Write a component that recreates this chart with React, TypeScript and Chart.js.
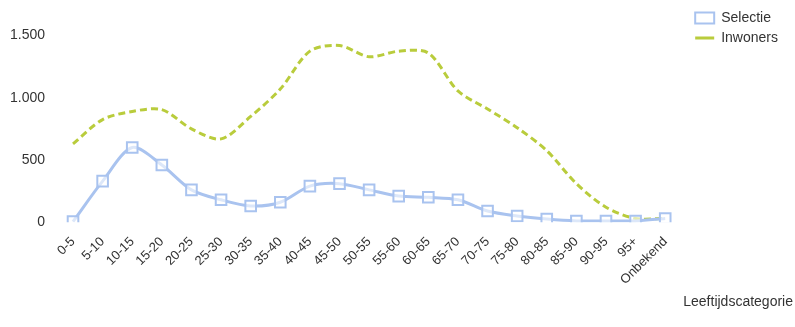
import React, { useEffect, useRef } from "react";
import { Chart, registerables } from "chart.js";

Chart.register(...registerables);

const categories = ["0-5", "5-10", "10-15", "15-20", "20-25", "25-30", "30-35", "35-40", "40-45", "45-50", "50-55", "55-60", "60-65", "65-70", "70-75", "75-80", "80-85", "85-90", "90-95", "95+", "Onbekend"];
const selectie = [5, 330, 600, 460, 260, 180, 130, 160, 290, 310, 260, 210, 200, 180, 90, 50, 25, 10, 10, 10, 30];
const inwoners = [630, 825, 890, 905, 750, 670, 850, 1070, 1375, 1420, 1330, 1375, 1360, 1055, 910, 760, 575, 310, 120, 30, 30];
const yTicks = [0, 500, 1000, 1500];
const xTitle = "Leeftijdscategorie";

// widens the legend box a little so it sits further left, as in the reference
const legendWiden = {
  id: "legendWiden",
  beforeLayout(chart: any) {
    const lg = chart.legend;
    if (lg && !lg.__widened) {
      const orig = lg.fit.bind(lg);
      lg.fit = () => {
        orig();
        lg.width += 5;
      };
      lg.__widened = true;
    }
  },
};

export default function App() {
  const ref = useRef<HTMLCanvasElement>(null);
  useEffect(() => {
    if (!ref.current) return;
    Chart.defaults.font.family = "'Liberation Sans', Arial, sans-serif";
    Chart.defaults.color = "#333";
    const chart = new Chart(ref.current, {
      type: "line",
      plugins: [legendWiden],
      data: {
        datasets: [
          {
            label: "Selectie",
            data: selectie.map((v, i) => ({ x: i, y: v })),
            borderColor: "#a9c3ef",
            backgroundColor: "#ffffff",
            borderWidth: 3,
            pointStyle: "rect",
            pointRadius: 7.5,
            pointBorderWidth: 2,
            pointBorderColor: "#a9c3ef",
            pointBackgroundColor: "rgba(255,255,255,0.6)",
            tension: 0.3,
            order: 1,
          },
          {
            label: "Inwoners",
            data: inwoners.map((v, i) => ({ x: i, y: v })),
            borderColor: "#b9cc3c",
            backgroundColor: "#b9cc3c",
            borderWidth: 3,
            borderDash: [7, 4],
            pointRadius: 0,
            pointStyle: "line",
            tension: 0.3,
            order: 2,
          },
        ],
      },
      options: {
        animation: false,
        responsive: true,
        maintainAspectRatio: false,
        layout: { padding: { top: 5, left: 10, right: 2, bottom: 0 } },
        plugins: {
          legend: {
            position: "right",
            align: "start",
            labels: {
              usePointStyle: true,
              pointStyleWidth: 19,
              boxHeight: 11,
              padding: 6,
              font: { size: 14 },
              color: "#333",
            },
          },
          subtitle: { display: true, text: "", padding: { top: 0, bottom: 15 }, font: { size: 13 } },
          title: {
            display: true,
            text: xTitle,
            position: "bottom",
            align: "end",
            font: { size: 14, weight: "normal" },
            color: "#333",
            padding: { top: 0, bottom: 16 },
          },
          tooltip: { enabled: false },
        },
        scales: {
          x: {
            type: "linear",
            min: -0.676,
            max: 20.81,
            grid: { display: false, drawTicks: false },
            border: { display: false },
            afterBuildTicks: (s: any) => {
              s.ticks = categories.map((_, i) => ({ value: i }));
            },
            afterFit: (s: any) => {
              s.height = 72;
              s.paddingLeft = 0;
              s.paddingRight = 0;
            },
            ticks: {
              autoSkip: false,
              minRotation: 45,
              maxRotation: 45,
              padding: 12,
              font: { size: 13 },
              color: "#333",
              callback: (v: any) => categories[v] ?? "",
            },
          },
          y: {
            min: 0,
            max: 1500,
            grid: { display: false, drawTicks: false, tickLength: 0 },
            border: { display: false },
            afterBuildTicks: (s: any) => {
              s.ticks = yTicks.map((v) => ({ value: v }));
            },
            afterFit: (s: any) => {
              s.width = 43;
            },
            ticks: {
              padding: 8,
              font: { size: 14 },
              color: "#333",
              callback: (v: any) => Number(v).toLocaleString("nl-NL"),
            },
          },
        },
      },
    });
    return () => chart.destroy();
  }, []);
  return (
    <div style={{ position: "fixed", left: 0, top: 0, width: 795, height: 327, background: "#fff" }}>
      <canvas ref={ref} />
    </div>
  );
}
